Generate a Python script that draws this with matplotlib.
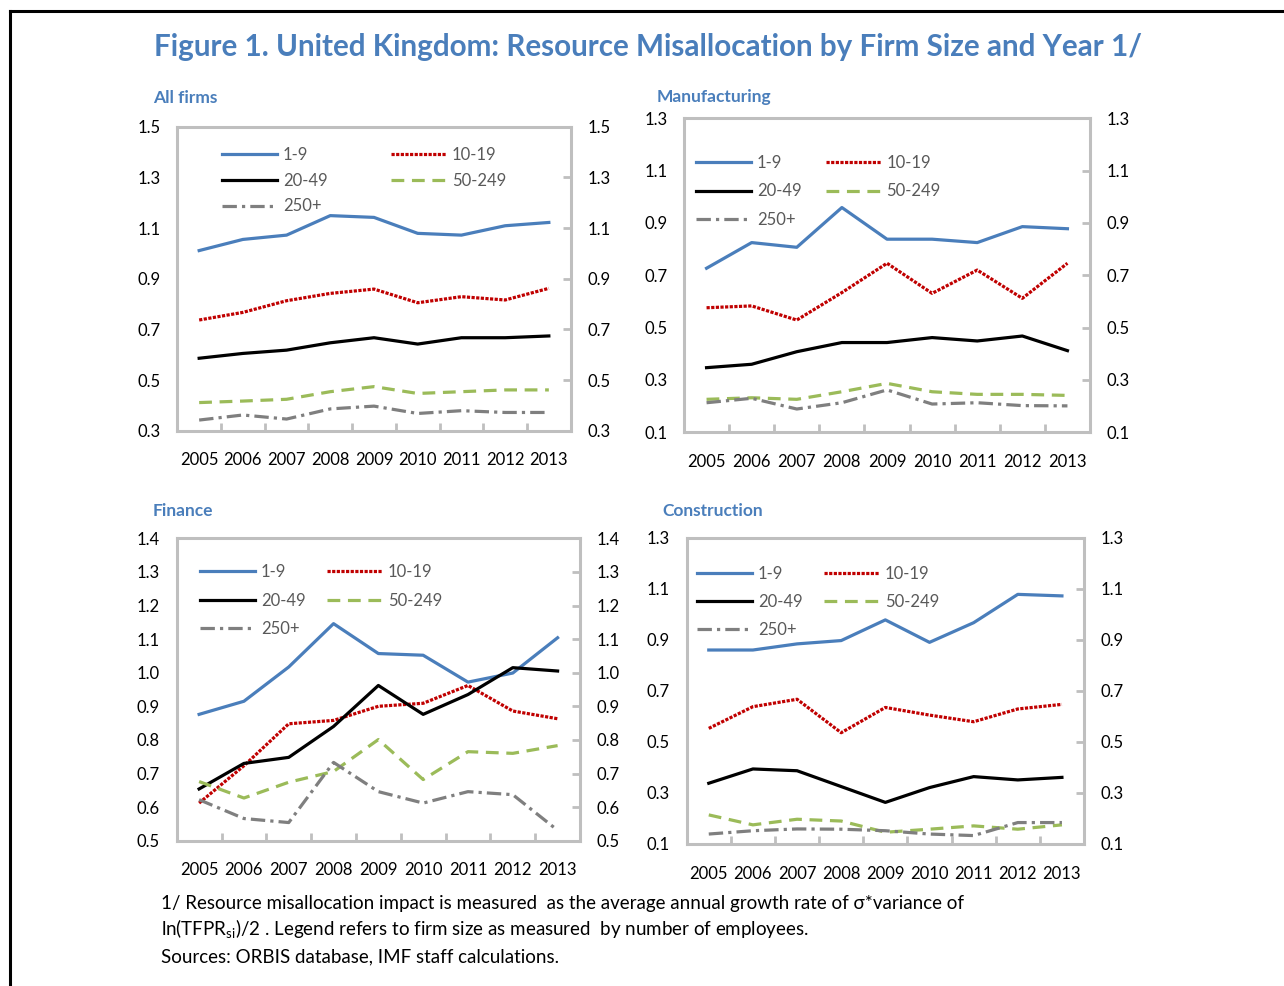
import numpy as np
import matplotlib.pyplot as plt
from matplotlib.lines import Line2D

plt.rcParams['font.family'] = ['Lato', 'DejaVu Sans']
plt.rcParams['mathtext.fontset'] = 'custom'
plt.rcParams['mathtext.rm'] = 'Lato'

anos = ['2005', '2006', '2007', '2008', '2009', '2010', '2011', '2012', '2013']
faixas = ['1-9', '10-19', '20-49', '50-249', '250+']

# All firms
todas = {
    '1-9':    [1.011, 1.055, 1.072, 1.149, 1.142, 1.079, 1.072, 1.109, 1.122],
    '10-19':  [0.737, 0.767, 0.813, 0.842, 0.859, 0.805, 0.829, 0.816, 0.862],
    '20-49':  [0.586, 0.605, 0.618, 0.647, 0.667, 0.642, 0.667, 0.667, 0.674],
    '50-249': [0.411, 0.417, 0.424, 0.454, 0.474, 0.447, 0.454, 0.461, 0.461],
    '250+':   [0.342, 0.362, 0.346, 0.386, 0.397, 0.368, 0.379, 0.372, 0.372],
}
# Manufacturing
manuf = {
    '1-9':    [0.727, 0.825, 0.807, 0.959, 0.838, 0.838, 0.825, 0.886, 0.878],
    '10-19':  [0.576, 0.583, 0.529, 0.634, 0.746, 0.631, 0.720, 0.612, 0.746],
    '20-49':  [0.347, 0.360, 0.408, 0.443, 0.443, 0.462, 0.449, 0.468, 0.412],
    '50-249': [0.226, 0.232, 0.226, 0.255, 0.287, 0.255, 0.245, 0.245, 0.241],
    '250+':   [0.213, 0.230, 0.189, 0.213, 0.262, 0.208, 0.213, 0.202, 0.201],
}
# Finance
financas = {
    '1-9':    [0.876, 0.915, 1.017, 1.146, 1.057, 1.052, 0.972, 0.999, 1.104],
    '10-19':  [0.612, 0.723, 0.848, 0.858, 0.900, 0.909, 0.962, 0.886, 0.863],
    '20-49':  [0.654, 0.730, 0.748, 0.840, 0.962, 0.876, 0.935, 1.015, 1.005],
    '50-249': [0.676, 0.627, 0.674, 0.706, 0.801, 0.682, 0.765, 0.760, 0.783],
    '250+':   [0.622, 0.566, 0.554, 0.733, 0.646, 0.612, 0.646, 0.637, 0.531],
}
# Construction
construcao = {
    '1-9':    [0.860, 0.860, 0.884, 0.897, 0.978, 0.890, 0.967, 1.078, 1.072],
    '10-19':  [0.553, 0.638, 0.667, 0.536, 0.635, 0.605, 0.579, 0.629, 0.647],
    '20-49':  [0.338, 0.394, 0.387, 0.325, 0.263, 0.321, 0.364, 0.351, 0.361],
    '50-249': [0.214, 0.175, 0.197, 0.190, 0.146, 0.158, 0.171, 0.158, 0.175],
    '250+':   [0.139, 0.152, 0.159, 0.158, 0.152, 0.139, 0.133, 0.184, 0.184],
}

estilos = {
    '1-9':    dict(color='#4A7EBB', ls='-'),
    '10-19':  dict(color='#C00000', ls=(0, (1.0, 0.45))),
    '20-49':  dict(color='black', ls='-'),
    '50-249': dict(color='#9BBB59', ls=(0, (4.0, 2.4))),
    '250+':   dict(color='#7F7F7F', ls=(0, (4.5, 1.6, 1.0, 1.6))),
}

W, H = 1284, 986
AZUL = '#4A7EBB'
CINZA = '#BFBFBF'

fig = plt.figure(figsize=(W / 100, H / 100), dpi=100)


def caixa(esq, dir, topo, base):
    """converte pixels para fração da figura"""
    return [esq / W, 1 - base / H, (dir - esq) / W, (base - topo) / H]


def painel(pos, dados, yticks, titulo, tit_xy, leg):
    ax = fig.add_axes(caixa(*pos))
    x = np.arange(len(anos))
    linhas = {}
    for f in faixas:
        linhas[f], = ax.plot(x, dados[f], lw=2.3, label=f, **estilos[f])
    ax.set_xlim(-0.5, len(anos) - 0.5)
    ax.set_ylim(yticks[0], yticks[-1])
    ax.set_xticks(x)
    ax.set_xticklabels(anos)
    ax.set_xticks(np.arange(0.5, len(anos) - 1, 1), minor=True)
    ax.tick_params(axis='x', which='major', length=0, pad=15.5, labelsize=12)
    ax.tick_params(axis='x', which='minor', direction='in', length=6,
                   width=2, color=CINZA)
    ax.set_yticks(yticks)
    ax.set_yticklabels(['%.1f' % v for v in yticks])
    ax.tick_params(axis='y', length=0, pad=12, labelsize=12)
    for s in ax.spines.values():
        s.set_color(CINZA)
        s.set_linewidth(2.2)

    ax2 = ax.twinx()
    ax2.set_ylim(yticks[0], yticks[-1])
    ax2.set_yticks(yticks)
    ax2.set_yticklabels(['%.1f' % v for v in yticks])
    ax2.tick_params(axis='y', direction='in', length=6, width=2,
                    color=CINZA, pad=12, labelsize=12)
    for s in ax2.spines.values():
        s.set_visible(False)

    # legenda: 3 linhas x 2 colunas
    lx, ly, espaco, colsp = leg
    esq, dir, topo, base = pos
    ordem = ['1-9', '20-49', '250+', '10-19', '50-249']
    ax.legend([linhas[f] for f in ordem], ordem, ncol=2, loc='upper left',
              bbox_to_anchor=((lx - esq) / (dir - esq), (base - ly) / (base - topo)),
              frameon=False, fontsize=12, labelcolor='#595959',
              handlelength=3.3, handletextpad=0.35, borderpad=0,
              borderaxespad=0, labelspacing=espaco, columnspacing=colsp)

    fig.text(tit_xy[0] / W, 1 - tit_xy[1] / H, titulo, color=AZUL,
             fontsize=12.5, fontweight='bold', va='center', ha='left')
    return ax


painel((177.3, 570.7, 126.7, 430.7), todas,
       [0.3, 0.5, 0.7, 0.9, 1.1, 1.3, 1.5], 'All firms', (153, 98),
       (222, 147, 0.58, 3.8))
painel((684, 1090, 118.3, 432.3), manuf,
       [0.1, 0.3, 0.5, 0.7, 0.9, 1.1, 1.3], 'Manufacturing', (657, 97),
       (696, 155, 0.75, 1.45))
painel((176.7, 580, 538.3, 840.7), financas,
       list(np.round(np.arange(0.5, 1.41, 0.1), 1)), 'Finance', (153, 511),
       (200, 564, 0.75, 1.3))
painel((686.7, 1084, 537.7, 844), construcao,
       [0.1, 0.3, 0.5, 0.7, 0.9, 1.1, 1.3], 'Construction', (662, 511),
       (697, 566, 0.72, 1.3))

fig.text(648.5 / W, 1 - 47 / H,
         'Figure 1. United Kingdom: Resource Misallocation by Firm Size and Year 1/',
         color=AZUL, fontsize=21.3, fontweight='bold', ha='center', va='center')

# notas
fig.text(161 / W, 1 - 903 / H,
         '1/ Resource misallocation impact is measured  as the average annual '
         'growth rate of \u03c3*variance of', fontsize=13.5, va='center', ha='left')
fig.text(161 / W, 1 - 929 / H,
         r'ln(TFPR$_{\mathrm{si}}$)/2 . Legend refers to firm size as measured  by '
         'number of employees.', fontsize=13.5, va='center', ha='left')
fig.text(161 / W, 1 - 957 / H, 'Sources: ORBIS database, IMF staff calculations.',
         fontsize=13.5, va='center', ha='left')

# moldura
fig.add_artist(Line2D([10 / W, 10 / W], [0, 1 - 11 / H], color='black', lw=2.2))
fig.add_artist(Line2D([10 / W, 1], [1 - 11 / H, 1 - 11 / H], color='black', lw=2.2))

plt.savefig('out.png', dpi=100)
